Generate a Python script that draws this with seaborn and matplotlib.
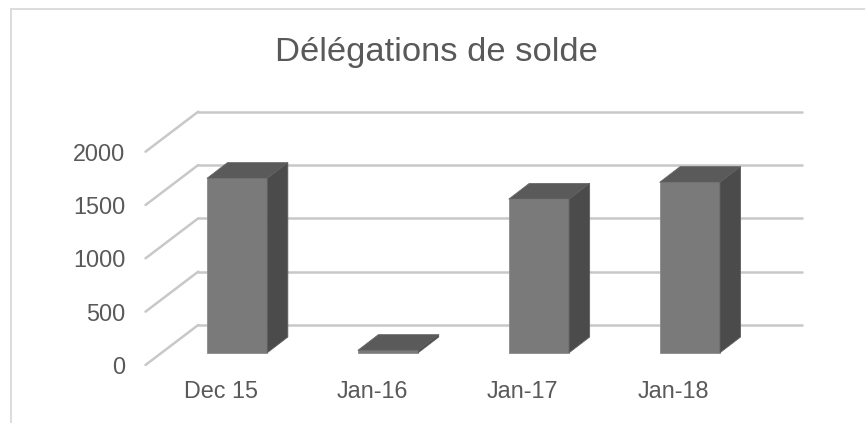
import matplotlib
matplotlib.use("Agg")
import matplotlib.pyplot as plt
import matplotlib.transforms as mtransforms
from matplotlib.patches import Polygon, Rectangle
import seaborn as sns
import pandas as pd

# ---- data ----
categories = ["Dec 15", "Jan-16", "Jan-17", "Jan-18"]
values = [1635, 22, 1440, 1598]
yticks = [0, 500, 1000, 1500, 2000]
ytick_labels = ["0", "500", "1000", "1500", "2000"]
title = "Délégations de solde"

sns.set_theme(style="white")
plt.rcParams["font.family"] = ["Liberation Sans", "DejaVu Sans"]

W, H, DPI = 865, 423, 100
fig = plt.figure(figsize=(W / DPI, H / DPI), dpi=DPI)
fig.patch.set_facecolor("white")

# axes = front plane of the 3D box (pixel geometry)
ax_l, ax_r, ax_b, ax_t = 145.5, 802.0, 365.0, 100.0
ax = fig.add_axes([ax_l / W, (H - ax_b) / H, (ax_r - ax_l) / W, (ax_b - ax_t) / H])
ax.set_facecolor("none")

df = pd.DataFrame({"cat": categories, "val": values})
sns.barplot(data=df, x="cat", y="val", color="#7a7a7a", saturation=1,
            width=0.4, ax=ax, zorder=3, edgecolor="#8a8a8a", linewidth=0.6)

ax.set_xlim(-0.5, -0.5 + (ax_r - ax_l) / 150.9)
ax.set_ylim(0, (ax_b - ax_t) / 0.10665)

def off(dx, dy):
    return mtransforms.ScaledTranslation(dx / DPI, dy / DPI, fig.dpi_scale_trans)

t_bar = ax.transData + off(16.2, 12.3)        # bar front plane
t_barback = ax.transData + off(36.7, 28.0)    # bar back plane
t_back = ax.transData + off(52.7, 40.0)       # back wall
inv = ax.transData.inverted()

def to_data(tr, pts):
    return inv.transform(tr.transform(pts))

# back wall gridlines and left wall diagonals
grid_c = "#c8c8c8"
x_left = -0.5
x_right = x_left + (802.0 - 52.7 - ax_l) / 150.9
for v in yticks:
    ax.plot([x_left, x_right], [v, v],
            transform=t_back, color=grid_c, lw=1.8, zorder=1, clip_on=False,
            solid_capstyle="round")
    p = to_data(ax.transData, [[x_left, v]])[0]
    q = to_data(t_back, [[x_left, v]])[0]
    ax.plot([p[0], q[0]], [p[1], q[1]], color=grid_c, lw=1.8, zorder=1,
            clip_on=False, solid_capstyle="round")

# 3D bars: move front faces to bar plane, add top and side faces
for patch in list(ax.patches):
    x0 = patch.get_x()
    w = patch.get_width()
    h = patch.get_height()
    x1 = x0 + w
    patch.set_transform(t_bar)
    patch.set_clip_on(False)
    ftl, ftr, fbr = to_data(t_bar, [[x0, h], [x1, h], [x1, 0]])
    btl, btr, bbr = to_data(t_barback, [[x0, h], [x1, h], [x1, 0]])
    ax.add_patch(Polygon([ftl, ftr, btr, btl], closed=True, facecolor="#5a5a5a",
                         edgecolor="#6a6a6a", lw=0.6, zorder=3, clip_on=False))
    ax.add_patch(Polygon([ftr, fbr, bbr, btr], closed=True, facecolor="#4b4b4b",
                         edgecolor="#5e5e5e", lw=0.6, zorder=3, clip_on=False))

# axes cosmetics
for s in ax.spines.values():
    s.set_visible(False)
ax.grid(False)
ax.set_xlabel("")
ax.set_ylabel("")
ax.set_yticks(yticks)
ax.set_yticklabels(ytick_labels)
ax.tick_params(axis="y", length=0, pad=14.5, labelsize=16.8, labelcolor="#595959")
ax.tick_params(axis="x", length=0, pad=11, labelsize=16.8, labelcolor="#595959")

fig.text(436.7 / W, 1 - 53 / H, title, ha="center", va="center",
         fontsize=24.8, color="#595959")

# chart frame (left and top edges)
fig.add_artist(Rectangle((11 / W, -0.1), 2.0, (H - 9) / H + 0.1,
                         transform=fig.transFigure, fill=False,
                         edgecolor="#d9d9d9", lw=1.3))

fig.savefig("out.png", dpi=DPI, facecolor="white")
